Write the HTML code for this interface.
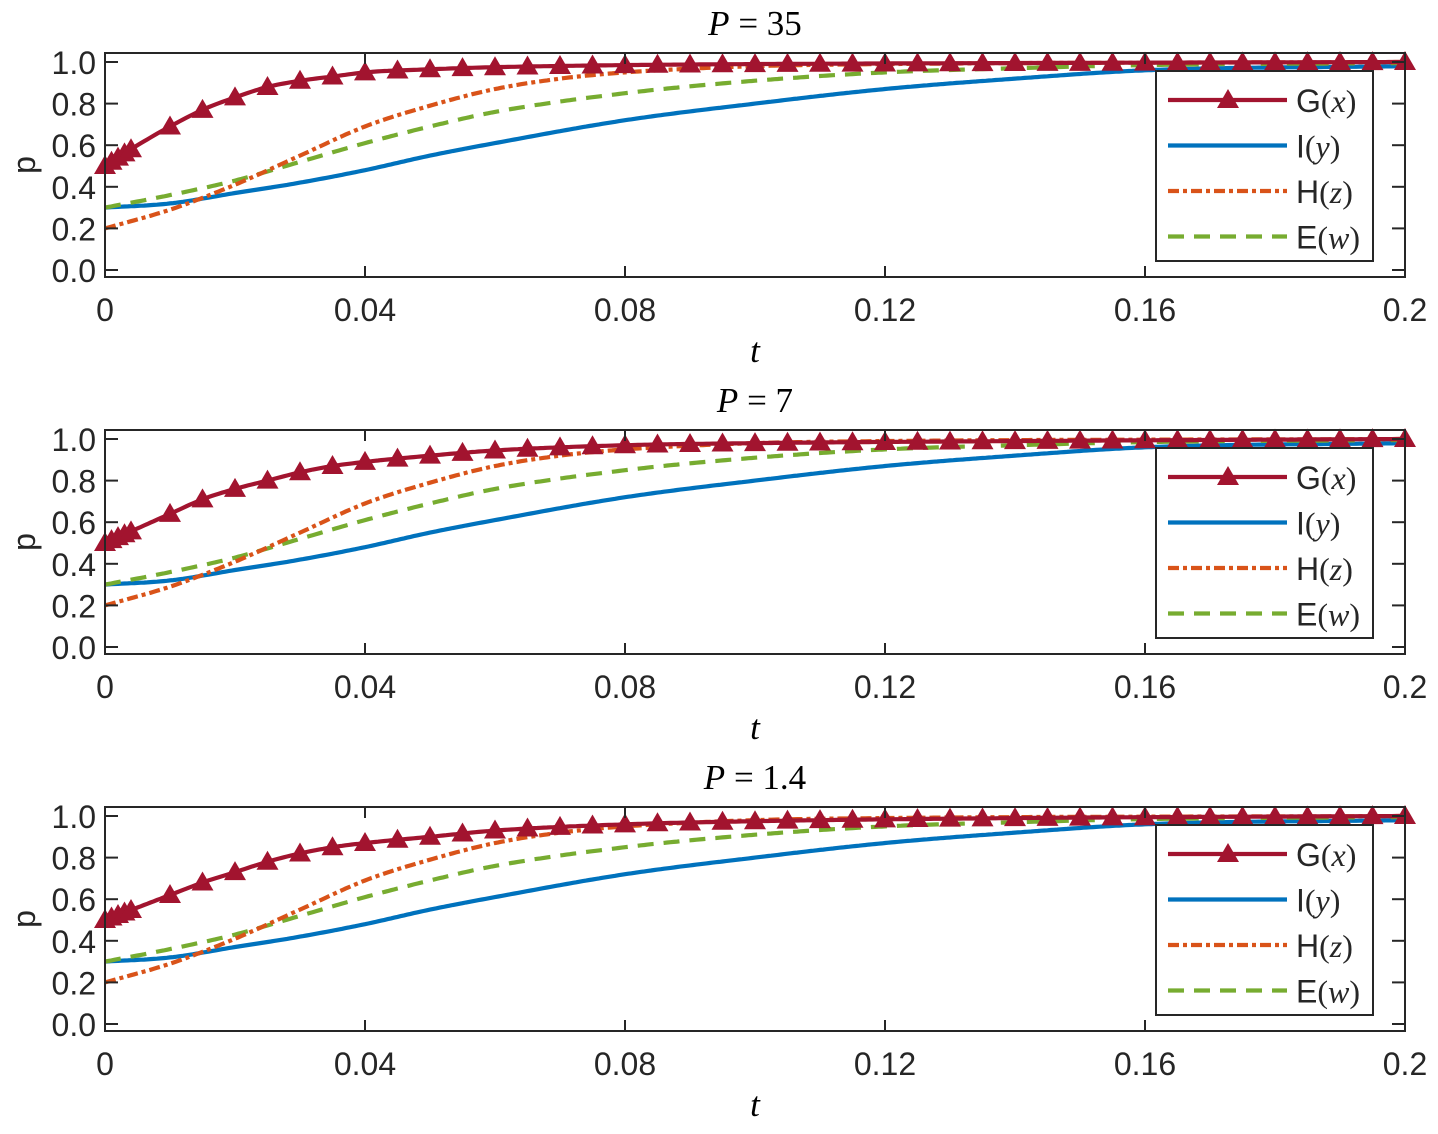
<!DOCTYPE html>
<html><head><meta charset="utf-8"><style>
html,body{margin:0;padding:0;background:#fff;}
svg{display:block;font-family:"Liberation Sans",sans-serif;}
</style></head><body>
<svg id="chart" width="1438" height="1134" viewBox="0 0 1438 1134" xmlns="http://www.w3.org/2000/svg"></svg>
<script>
const panelTitles = ["35", "7", "1.4"];
const tTicks = [0, 0.04, 0.08, 0.12, 0.16, 0.2];
const tTickLabels = ["0", "0.04", "0.08", "0.12", "0.16", "0.2"];
const pTicks = [0, 0.2, 0.4, 0.6, 0.8, 1.0];
const pTickLabels = ["0.0", "0.2", "0.4", "0.6", "0.8", "1.0"];
const seriesNames = ["G", "I", "H", "E"];
const seriesVars = ["x", "y", "z", "w"];
const markerT = [0, 0.001, 0.002, 0.003, 0.004, 0.01, 0.015, 0.02, 0.025, 0.03, 0.035, 0.04, 0.045, 0.05, 0.055, 0.06, 0.065, 0.07, 0.075, 0.08, 0.085, 0.09, 0.095, 0.1, 0.105, 0.11, 0.115, 0.12, 0.125, 0.13, 0.135, 0.14, 0.145, 0.15, 0.155, 0.16, 0.165, 0.17, 0.175, 0.18, 0.185, 0.19, 0.195, 0.2];
const gT = [0, 0.005, 0.01, 0.015, 0.02, 0.025, 0.03, 0.035, 0.04, 0.05, 0.06, 0.08, 0.1, 0.14, 0.2];
const gP1 = [0.5, 0.6, 0.69, 0.77, 0.83, 0.88, 0.91, 0.93, 0.95, 0.965, 0.975, 0.985, 0.99, 0.995, 1.0];
const gP2 = [0.5, 0.57, 0.64, 0.71, 0.76, 0.80, 0.84, 0.87, 0.89, 0.92, 0.945, 0.97, 0.98, 0.99, 1.0];
const gP3 = [0.5, 0.56, 0.62, 0.68, 0.73, 0.78, 0.82, 0.85, 0.87, 0.90, 0.93, 0.96, 0.975, 0.99, 1.0];
const iT = [0, 0.01, 0.02, 0.03, 0.04, 0.05, 0.06, 0.08, 0.1, 0.12, 0.14, 0.16, 0.2];
const iP = [0.3, 0.32, 0.37, 0.42, 0.48, 0.55, 0.61, 0.72, 0.8, 0.87, 0.92, 0.96, 0.98];
const hT = [0, 0.01, 0.02, 0.03, 0.04, 0.05, 0.06, 0.07, 0.08, 0.1, 0.12, 0.2];
const hP = [0.2, 0.29, 0.41, 0.55, 0.69, 0.79, 0.87, 0.92, 0.95, 0.98, 0.99, 1.0];
const eT = [0, 0.01, 0.02, 0.03, 0.04, 0.05, 0.06, 0.08, 0.1, 0.12, 0.14, 0.16, 0.2];
const eP = [0.3, 0.36, 0.43, 0.52, 0.61, 0.69, 0.76, 0.85, 0.91, 0.95, 0.97, 0.985, 0.995];

const NS = "http://www.w3.org/2000/svg";
const svg = document.getElementById("chart");
function mk(tag, attrs, parent) {
  const e = document.createElementNS(NS, tag);
  for (const k in attrs) e.setAttribute(k, attrs[k]);
  (parent || svg).appendChild(e);
  return e;
}
function interp(xs, ys, x) {
  const n = xs.length;
  if (x <= xs[0]) return ys[0];
  if (x >= xs[n-1]) return ys[n-1];
  const d = [], m = [];
  for (let i = 0; i < n-1; i++) d.push((ys[i+1]-ys[i])/(xs[i+1]-xs[i]));
  m.push(d[0]);
  for (let i = 1; i < n-1; i++) m.push(d[i-1]*d[i] <= 0 ? 0 : (d[i-1]+d[i])/2);
  m.push(d[n-2]);
  let i = 0; while (x > xs[i+1]) i++;
  const h = xs[i+1]-xs[i], s = (x-xs[i])/h;
  const h00 = 2*s*s*s-3*s*s+1, h10 = s*s*s-2*s*s+s, h01 = -2*s*s*s+3*s*s, h11 = s*s*s-s*s;
  return h00*ys[i]+h10*h*m[i]+h01*ys[i+1]+h11*h*m[i+1];
}
const colors = ["#A2142F", "#0072BD", "#D95319", "#77AC30"];
const dashes = ["", "", "11 4 4 4", "16 10"];
const L = 105, R = 1405;
const panelTops = [53, 430, 807];

panelTitles.forEach((title, pi) => {
  const top = panelTops[pi], bot = top + 224;
  const y0 = top + 217, y1 = top + 9;
  const xs = t => L + (t / 0.2) * (R - L);
  const ys = p => y0 + p * (y1 - y0);
  const g = mk("g", {});
  
  
  const tt = mk("text", {x: 755, y: top - 18, "text-anchor": "middle", "font-size": 35, "font-family": "Liberation Serif, serif"}, g);
  
  
  tt.innerHTML = '<tspan font-style="italic">P</tspan> = ' + title;
  mk("rect", {x: L, y: top, width: R-L, height: bot-top, fill: "#fff"}, g);
  const gP = [gP1, gP2, gP3][pi];
  const sets = [[gT, gP], [iT, iP], [hT, hP], [eT, eP]];
  const order = [1, 3, 2, 0];
  order.forEach(si => {
    const [tx, py] = sets[si];
    let d = "";
    for (let k = 0; k <= 400; k++) {
      const t = 0.2 * k / 400;
      d += (k ? "L" : "M") + xs(t).toFixed(1) + "," + ys(interp(tx, py, t)).toFixed(1);
    }
    const path = mk("path", {d: d, fill: "none", stroke: colors[si], "stroke-width": 4.2, "stroke-dasharray": dashes[si]}, g);
    
    
    if (si === 0) {
      markerT.forEach(t => {
        const cx = xs(t), cy = ys(interp(tx, py, t));
        const m = mk("polygon", {points: `${cx},${cy-11} ${cx-11},${cy+8} ${cx+11},${cy+8}`, fill: colors[0]}, g);
        
        
      });
    }
  });
  const box = mk("rect", {x: L, y: top, width: R-L, height: bot-top, fill: "none", stroke: "#262626", "stroke-width": 2}, g);
  
  
  tTicks.forEach((t, k) => {
    const x = xs(t);
    mk("line", {x1: x, x2: x, y1: bot, y2: bot-11, stroke: "#262626", "stroke-width": 2}, g);
    mk("line", {x1: x, x2: x, y1: top, y2: top+11, stroke: "#262626", "stroke-width": 2}, g);
    const lb = mk("text", {x: x, y: bot + 44, "text-anchor": "middle", "font-size": 32, fill: "#262626"}, g);
    
    
    lb.textContent = tTickLabels[k];
  });
  pTicks.forEach((p, k) => {
    const y = ys(p);
    mk("line", {x1: L, x2: L+13, y1: y, y2: y, stroke: "#262626", "stroke-width": 2}, g);
    mk("line", {x1: R, x2: R-13, y1: y, y2: y, stroke: "#262626", "stroke-width": 2}, g);
    const lb = mk("text", {x: 96, y: y + 12, "text-anchor": "end", "font-size": 32, fill: "#262626"}, g);
    
    
    lb.textContent = pTickLabels[k];
  });
  const xl = mk("text", {x: 755, y: bot + 85, "text-anchor": "middle", "font-size": 35, "font-style": "italic", "font-family": "Liberation Serif, serif"}, g);
  
  
  xl.textContent = "t";
  const yl = mk("text", {x: 0, y: 0, "text-anchor": "middle", "font-size": 32, fill: "#262626", transform: `translate(35,${(top+bot)/2}) rotate(-90)`}, g);
  
  
  yl.textContent = "p";
  const lg = mk("g", {}, g);
  
  
  mk("rect", {x: 1156, y: top + 18, width: 217, height: 190, fill: "#fff", stroke: "#262626", "stroke-width": 2}, lg);
  seriesNames.forEach((nm, si) => {
    const y = top + 47 + si * 45.5;
    const ln = mk("line", {x1: 1168, x2: 1287, y1: y, y2: y, stroke: colors[si], "stroke-width": 4.2, "stroke-dasharray": dashes[si]}, lg);
    
    
    if (si === 0) mk("polygon", {points: `1228,${y-11} 1217,${y+8} 1239,${y+8}`, fill: colors[0]}, lg);
    const tx = mk("text", {x: 1296, y: y + 12, "font-size": 32, fill: "#262626"}, lg);
    
    
    tx.innerHTML = nm + '<tspan font-family="Liberation Serif, serif">(<tspan font-style="italic">' + seriesVars[si] + '</tspan>)</tspan>';
  });
});
</script>
</body></html>
